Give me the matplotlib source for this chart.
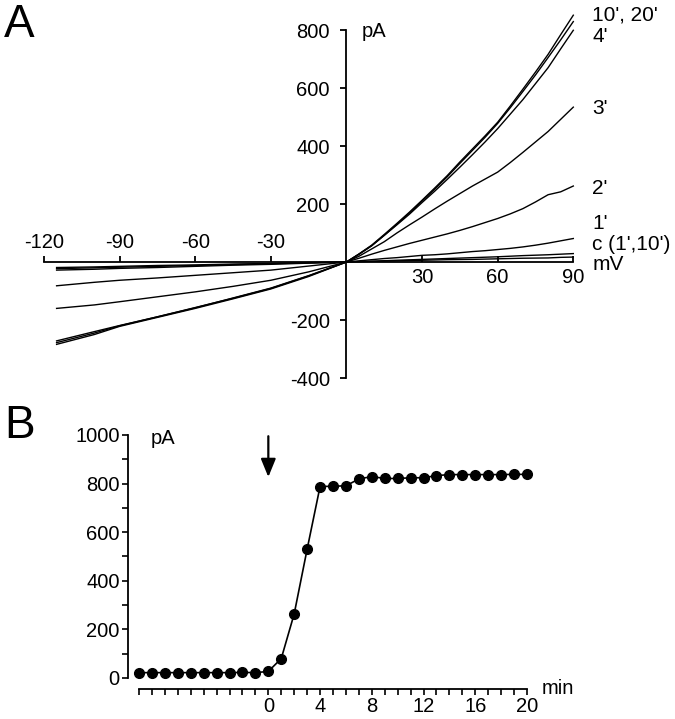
import matplotlib
matplotlib.use('Agg')
import matplotlib.pyplot as plt
import numpy as np

plt.rcParams['font.family'] = ['Liberation Sans', 'DejaVu Sans']

# ---- panel A: I-V traces (mV vs pA) ----
volts = [-115, -100, -90, -75, -60, -45, -30, -15, 0, 5, 10, 15, 20, 25, 30,
         35, 40, 45, 50, 55, 60, 65, 70, 75, 80, 85, 90]
iv_traces = {
    "10'": [-272, -240, -219, -189, -157, -125, -91, -48, 0, 28, 58, 95, 133, 172, 213,
            255, 298, 345, 390, 435, 482, 538, 596, 655, 716, 784, 851],
    "20'": [-284, -250, -222, -191, -160, -127, -93, -50, 0, 27, 56, 92, 130, 169, 210,
            251, 294, 340, 385, 430, 478, 532, 588, 645, 705, 766, 829],
    "4'":  [-278, -245, -220, -189, -158, -124, -90, -47, 0, 27, 56, 92, 128, 165, 205,
            244, 285, 327, 370, 414, 460, 510, 560, 615, 670, 735, 799],
    "3'":  [-160, -148, -137, -120, -103, -84, -63, -34, 0, 20, 45, 70, 100, 128, 155,
            183, 210, 236, 262, 286, 310, 343, 378, 414, 450, 492, 534],
    "2'":  [-82, -70, -63, -55, -46, -37, -28, -14, 0, 13, 27, 40, 52, 64, 75,
            86, 97, 109, 122, 136, 150, 166, 184, 207, 232, 242, 262],
    "1'":  [-28, -25, -22, -19, -15, -11, -8, -4, 0, 4, 8, 12, 15, 19, 23,
            25, 28, 32, 36, 39, 43, 47, 52, 58, 65, 73, 81],
    "c1'": [-19, -17, -15, -12, -10, -7, -5, -2, 0, 1.5, 3, 4.5, 6, 7.5, 9,
            10.5, 12, 13.5, 15, 16.5, 18, 20, 22, 23.5, 25, 27, 29],
    "c10'": [-23, -20, -18, -15, -12, -9, -6, -3, 0, 1, 2, 3, 4, 5, 6,
             7, 8, 8.5, 9, 10, 11, 12, 13, 13.5, 14, 16, 17],
}
iv_xticks = [-120, -90, -60, -30, 30, 60, 90]
iv_yticks = [-400, -200, 200, 400, 600, 800]
trace_labels = ["10', 20'", "4'", "3'", "2'", "1'", "c (1',10')", "mV"]
trace_label_y = [852, 776, 531, 255, 134, 60, -8]

# ---- panel B: time course ----
minutes = [-10, -9, -8, -7, -6, -5, -4, -3, -2, -1, 0, 1, 2, 3, 4, 5, 6, 7, 8, 9,
           10, 11, 12, 13, 14, 15, 16, 17, 18, 19, 20]
current = [22, 22, 22, 22, 22, 22, 22, 22, 23, 22, 27, 80, 264, 530, 788, 789,
           791, 819, 829, 821, 821, 824, 824, 833, 837, 837, 837, 837, 837, 838, 838]
time_ticks = [0, 4, 8, 12, 16, 20]

W, H = 675, 719
fig = plt.figure(figsize=(W / 100, H / 100), dpi=100)

# panel A
axA = fig.add_axes([44 / W, (H - 378) / H, (573.3 - 44) / W, 348 / H])
for key, vals in iv_traces.items():
    axA.plot(volts, vals, color='k', lw=1.0, clip_on=False)
axA.set_xlim(-120, 90)
axA.set_ylim(-400, 800)
axA.spines['left'].set_position(('data', 0))
axA.spines['bottom'].set_position(('data', 0))
axA.spines['top'].set_visible(False)
axA.spines['right'].set_visible(False)
for s in ('left', 'bottom'):
    axA.spines[s].set_linewidth(1.3)
axA.set_yticks(iv_yticks)
axA.set_yticklabels([str(v) for v in iv_yticks])
axA.tick_params(axis='y', direction='out', length=4, width=1.3, labelsize=14.5, pad=8)
axA.set_xticks(iv_xticks)
axA.tick_params(axis='x', direction='in', length=4.5, width=1.3, labelbottom=False)
for v in iv_xticks:
    if v < 0:
        axA.annotate(str(v), xy=(v, 0), xytext=(0, 10), textcoords='offset points',
                     ha='center', va='baseline', fontsize=14.5)
    else:
        axA.annotate(str(v), xy=(v, 0), xytext=(0, -4), textcoords='offset points',
                     ha='center', va='top', fontsize=14.5)
axA.text(6, 795, 'pA', fontsize=14.5, va='center', ha='left')
for lab, y in zip(trace_labels, trace_label_y):
    axA.text(97.5, y, lab, fontsize=15, va='center', ha='left', clip_on=False)
fig.text(4 / W, 1 - 37 / H, 'A', fontsize=33, va='baseline', ha='left')

# panel B
axB = fig.add_axes([128 / W, (H - 689) / H, (527 - 128) / W, (689 - 435) / H])
axB.plot(minutes, current, color='k', lw=1.2, marker='o', ms=7, clip_on=False)
axB.set_xlim(-10.85, 20)
axB.set_ylim(-45.3, 1000)
axB.spines['top'].set_visible(False)
axB.spines['right'].set_visible(False)
axB.spines['left'].set_bounds(0, 1000)
axB.spines['bottom'].set_bounds(-10, 20)
for s in ('left', 'bottom'):
    axB.spines[s].set_linewidth(1.3)
axB.set_yticks(np.arange(0, 1001, 200))
axB.set_yticks(np.arange(0, 1001, 100), minor=True)
axB.set_xticks(time_ticks)
axB.set_xticks(minutes, minor=True)
axB.tick_params(which='both', direction='out', length=4, width=1.2)
axB.tick_params(axis='y', which='major', labelsize=14.5, pad=2)
axB.tick_params(axis='x', which='major', labelsize=14.5, pad=2)
axB.text(-9.1, 985, 'pA', fontsize=14.5, va='center', ha='left')
axB.text(21.1, -45, 'min', fontsize=14.5, va='center', ha='left', clip_on=False)
axB.annotate('', xy=(0, 827), xytext=(0, 995),
             arrowprops=dict(arrowstyle='-|>,head_length=1.1,head_width=0.45',
                             color='k', lw=1.6, shrinkA=0, shrinkB=0))
fig.text(4 / W, 1 - 438 / H, 'B', fontsize=33, va='baseline', ha='left')

fig.savefig('out.png', dpi=100)
